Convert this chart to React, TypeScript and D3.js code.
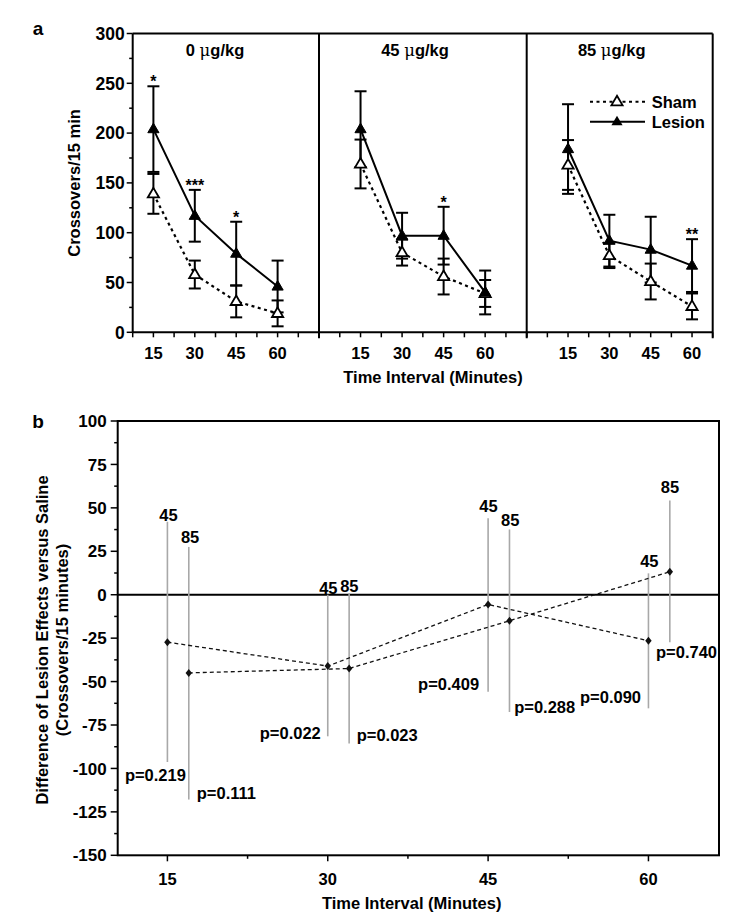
import React from 'react';
import * as d3 from 'd3';

// ---------- Panel a data ----------
const times = [15, 30, 45, 60];
const doseLabels = ['0', '45', '85'];

const lesion0 = [204, 117, 79, 46];
const lesion0Err = [43, 26, 32, 26];
const sham0 = [139, 58, 31, 19];
const sham0Err = [20, 14, 16, 13];

const lesion45 = [204, 97, 97, 40];
const lesion45Err = [38, 23, 29, 22];
const sham45 = [169, 80, 56, 39];
const sham45Err = [24.5, 13, 18, 13.5];

const lesion85 = [184, 92, 83, 67];
const lesion85Err = [45, 26, 33, 26.5];
const sham85 = [168, 77, 51, 26];
const sham85Err = [25, 12.5, 18, 13];

const starPanel = [0, 0, 0, 1, 2];
const starTime = [15, 30, 45, 45, 60];
const starText = ['*', '***', '*', '*', '**'];

const yTicksA = [0, 50, 100, 150, 200, 250, 300];

// ---------- Panel b data ----------
const times45 = [15, 30, 45, 60];
const est45 = [-27.3, -41.1, -5.6, -26.5];
const lo45 = [-96.3, -81.5, -55.8, -65.4];
const hi45 = [42, 0, 44, 12.3];
const p45 = ['p=0.219', 'p=0.022', 'p=0.409', 'p=0.090'];

const times85 = [17, 32, 47, 62];
const est85 = [-45, -42.5, -15, 13.2];
const lo85 = [-117.9, -85.7, -67.5, -27.4];
const hi85 = [27.5, 1, 37.6, 54.2];
const p85 = ['p=0.111', 'p=0.023', 'p=0.288', 'p=0.740'];

const yTicksB = [100, 75, 50, 25, 0, -25, -50, -75, -100, -125, -150];
const xTicksB = [15, 30, 45, 60];

// ---------- layout (not data) ----------
const FONT = "'Liberation Sans', Arial, Helvetica, sans-serif";
const top45Off = [[1, -6.7], [0.6, -6.3], [0.4, -11.8], [0.9, -12.6]];
const top85Off = [[1.3, -10], [0.2, -7], [0.7, -9.7], [0.2, -13.6]];
const p45Off: [number, number, string][] = [[-12, 13.3, 'middle'], [-7, -3.7, 'end'], [-9, -7.5, 'end'], [-7.4, -11.4, 'end']];
const p85Off: [number, number, string][] = [[8, -6.6, 'start'], [7.6, -8.3, 'start'], [4.7, -5.4, 'start'], [-13.8, 10, 'start']];
const titleX = [215, 415, 611.7];

function tri(cx: number, cy: number) {
  return `M${cx},${cy - 6}L${cx + 5.6},${cy + 3.6}L${cx - 5.6},${cy + 3.6}Z`;
}
function diamond(cx: number, cy: number) {
  return `M${cx},${cy - 4}L${cx + 3.2},${cy}L${cx},${cy + 4}L${cx - 3.2},${cy}Z`;
}

export default function App() {
  const yA = d3.scaleLinear().domain([0, 300]).range([332.3, 33.5]);
  const panelX = [
    d3.scaleLinear().domain([7.5, 75]).range([132.7, 319]),
    d3.scaleLinear().domain([0, 75]).range([319, 526.7]),
    d3.scaleLinear().domain([0, 67.5]).range([526.7, 712.7]),
  ];
  const lesion = [lesion0, lesion45, lesion85];
  const lesionErr = [lesion0Err, lesion45Err, lesion85Err];
  const sham = [sham0, sham45, sham85];
  const shamErr = [sham0Err, sham45Err, sham85Err];

  const xB = d3.scaleLinear().domain([10.35, 66.6]).range([117.7, 719]);
  const yB = d3.scaleLinear().domain([-150, 100]).range([855.3, 421]);

  const aLeft = 132.7, aRight = 712.7, aTop = yA(300), aBot = yA(0);
  const bLeft = xB.range()[0], bRight = xB.range()[1], bTop = yB(100), bBot = yB(-150);

  const lineGen = (xs: d3.ScaleLinear<number, number>) =>
    d3.line<number>().x((_, i) => xs(times[i])).y((d) => yA(d));

  const errBar = (x: number, m: number, e: number, key: string) => {
    const y1 = yA(m + e), y2 = yA(m - e);
    return (
      <g key={key} stroke="#000" strokeWidth={2}>
        <line x1={x} x2={x} y1={y1} y2={y2} />
        <line x1={x - 6} x2={x + 6} y1={y1} y2={y1} />
        <line x1={x - 6} x2={x + 6} y1={y2} y2={y2} />
      </g>
    );
  };

  const minorA = d3.range(25, 300, 50);
  const bMinorY = d3.range(-137.5, 100, 25);
  const bMinorX = [22.5, 37.5, 52.5];

  const lineB = (ts: number[]) => d3.line<number>().x((_, i) => xB(ts[i])).y((d) => yB(d));

  return (
    <svg width={745} height={920} style={{ position: 'absolute', left: 0, top: 0, background: '#fff' }}
      fontFamily={FONT} fontWeight="bold">
      <rect width={745} height={920} fill="#fff" />
      {/* ================= Panel a ================= */}
      <text x={38} y={35} fontSize={19} textAnchor="middle">a</text>

      {/* frame */}
      <g stroke="#000" strokeWidth={2} fill="none">
        <line x1={aLeft} x2={aRight} y1={aTop} y2={aTop} />
        <line x1={aLeft} x2={aRight} y1={aBot} y2={aBot} />
        <line x1={aLeft} x2={aLeft} y1={aTop} y2={aBot} />
        <line x1={aRight} x2={aRight} y1={aTop} y2={aBot + 6} />
        <line x1={panelX[1].range()[0]} x2={panelX[1].range()[0]} y1={aTop} y2={aBot + 6} />
        <line x1={panelX[2].range()[0]} x2={panelX[2].range()[0]} y1={aTop} y2={aBot + 6} />
      </g>

      {/* y axis ticks */}
      <g stroke="#000" strokeWidth={1.5}>
        {yTicksA.map((t) => <line key={'ya' + t} x1={aLeft - 6} x2={aLeft} y1={yA(t)} y2={yA(t)} />)}
        {minorA.map((t) => <line key={'yam' + t} x1={aLeft - 3.5} x2={aLeft} y1={yA(t)} y2={yA(t)} />)}
      </g>
      <g fontSize={17.5} textAnchor="end">
        {yTicksA.map((t) => <text key={'yal' + t} x={aLeft - 8} y={yA(t)} dy="0.36em">{t}</text>)}
      </g>
      <text transform={`translate(74,${(aTop + aBot) / 2}) rotate(-90)`} fontSize={16.5} textAnchor="middle" dy="0.36em">
        Crossovers/15 min
      </text>

      {/* x ticks per panel */}
      {panelX.map((xs, pi) => {
        const [d0, d1] = xs.domain();
        const ticks = d3.range(d0, d1 + 0.01, 7.5);
        return (
          <g key={'xt' + pi}>
            <g stroke="#000" strokeWidth={1.5}>
              {ticks.map((t) => <line key={t} x1={xs(t)} x2={xs(t)} y1={aBot} y2={aBot + 5} />)}
            </g>
            <g fontSize={16.5} textAnchor="middle">
              {times.map((t) => <text key={'l' + t} x={xs(t)} y={359}>{t}</text>)}
            </g>
          </g>
        );
      })}
      <text x={433} y={376.7} dy="0.36em" fontSize={16.5} textAnchor="middle">Time Interval (Minutes)</text>

      {/* panel titles */}
      {doseLabels.map((d, pi) => (
        <text key={'ti' + pi} x={titleX[pi]} y={50} dy="0.36em" fontSize={16.5} textAnchor="middle">
          {d} <tspan fontWeight="normal" fontFamily="'DejaVu Serif', serif">μ</tspan>g/kg
        </text>
      ))}

      {/* data */}
      {panelX.map((xs, pi) => (
        <g key={'pd' + pi}>
          {times.map((t, i) => errBar(xs(t), sham[pi][i], shamErr[pi][i], 'se' + i))}
          {times.map((t, i) => errBar(xs(t), lesion[pi][i], lesionErr[pi][i], 'le' + i))}
          <path d={lineGen(xs)(sham[pi]) || ''} fill="none" stroke="#000" strokeWidth={2.2} strokeDasharray="3 3.5" />
          <path d={lineGen(xs)(lesion[pi]) || ''} fill="none" stroke="#000" strokeWidth={2} />
          {times.map((t, i) => (
            <path key={'sm' + i} d={tri(xs(t), yA(sham[pi][i]))} fill="#fff" stroke="#000" strokeWidth={1.8} />
          ))}
          {times.map((t, i) => (
            <path key={'lm' + i} d={tri(xs(t), yA(lesion[pi][i]))} fill="#000" stroke="#000" strokeWidth={1} />
          ))}
        </g>
      ))}

      {/* significance stars */}
      {starText.map((s, i) => {
        const pi = starPanel[i];
        const ti = times.indexOf(starTime[i]);
        const capY = yA(lesion[pi][ti] + lesionErr[pi][ti]);
        return (
          <text key={'st' + i} x={panelX[pi](starTime[i])} y={capY + 1} fontSize={16} textAnchor="middle">{s}</text>
        );
      })}

      {/* legend */}
      <g>
        <line x1={590} x2={645} y1={101.7} y2={101.7} stroke="#000" strokeWidth={2} strokeDasharray="3 3.5" />
        <path d={tri(617, 101.7)} fill="#fff" stroke="#000" strokeWidth={1.8} />
        <text x={651.7} y={101.7} dy="0.36em" fontSize={16.5}>Sham</text>
        <line x1={590} x2={645} y1={121.7} y2={121.7} stroke="#000" strokeWidth={2} />
        <path d={tri(617, 121.7)} fill="#000" />
        <text x={651.7} y={121.7} dy="0.36em" fontSize={16.5}>Lesion</text>
      </g>

      {/* ================= Panel b ================= */}
      <text x={38} y={428.3} fontSize={19} textAnchor="middle">b</text>
      <rect x={bLeft} y={bTop} width={bRight - bLeft} height={bBot - bTop} fill="none" stroke="#000" strokeWidth={2} />
      <line x1={bLeft} x2={bRight} y1={yB(0)} y2={yB(0)} stroke="#000" strokeWidth={2} />

      <g stroke="#000" strokeWidth={1.5}>
        {yTicksB.map((t) => <line key={'yb' + t} x1={bLeft - 7} x2={bLeft} y1={yB(t)} y2={yB(t)} />)}
        {bMinorY.map((t) => <line key={'ybm' + t} x1={bLeft - 3.5} x2={bLeft} y1={yB(t)} y2={yB(t)} />)}
        {xTicksB.map((t) => <line key={'xb' + t} x1={xB(t)} x2={xB(t)} y1={bBot} y2={bBot + 6} />)}
        {bMinorX.map((t) => <line key={'xbm' + t} x1={xB(t)} x2={xB(t)} y1={bBot} y2={bBot + 3.5} />)}
      </g>
      <g fontSize={17} textAnchor="end">
        {yTicksB.map((t) => <text key={'ybl' + t} x={bLeft - 11} y={yB(t)} dy="0.36em">{t}</text>)}
      </g>
      <g fontSize={16.5} textAnchor="middle">
        {xTicksB.map((t) => <text key={'xbl' + t} x={xB(t)} y={879.3} dy="0.36em">{t}</text>)}
      </g>
      <text x={411.7} y={903.3} dy="0.36em" fontSize={16.5} textAnchor="middle">Time Interval (Minutes)</text>
      <g fontSize={16.5} textAnchor="middle">
        <text transform={`translate(42,640) rotate(-90)`} dy="0.36em">Difference of Lesion Effects versus Saline</text>
        <text transform={`translate(62,640) rotate(-90)`} dy="0.36em">(Crossovers/15 minutes)</text>
      </g>

      {/* CI lines */}
      <g stroke="#a8a8a8" strokeWidth={1.6}>
        {times45.map((t, i) => <line key={'c45' + i} x1={xB(t)} x2={xB(t)} y1={yB(hi45[i])} y2={yB(lo45[i])} />)}
        {times85.map((t, i) => <line key={'c85' + i} x1={xB(t)} x2={xB(t)} y1={yB(hi85[i])} y2={yB(lo85[i])} />)}
      </g>
      <path d={lineB(times45)(est45) || ''} fill="none" stroke="#111" strokeWidth={1.3} strokeDasharray="4 3" />
      <path d={lineB(times85)(est85) || ''} fill="none" stroke="#111" strokeWidth={1.3} strokeDasharray="4 3" />
      {times45.map((t, i) => <path key={'d45' + i} d={diamond(xB(t), yB(est45[i]))} fill="#111" />)}
      {times85.map((t, i) => <path key={'d85' + i} d={diamond(xB(t), yB(est85[i]))} fill="#111" />)}

      <g fontSize={16.5}>
        {times45.map((t, i) => (
          <text key={'t45' + i} x={xB(t) + top45Off[i][0]} y={yB(hi45[i]) + top45Off[i][1]} dy="0.36em" textAnchor="middle">45</text>
        ))}
        {times85.map((t, i) => (
          <text key={'t85' + i} x={xB(t) + top85Off[i][0]} y={yB(hi85[i]) + top85Off[i][1]} dy="0.36em" textAnchor="middle">85</text>
        ))}
        {times45.map((t, i) => (
          <text key={'p45' + i} x={xB(t) + p45Off[i][0]} y={yB(lo45[i]) + p45Off[i][1]} dy="0.36em" textAnchor={p45Off[i][2]}>{p45[i]}</text>
        ))}
        {times85.map((t, i) => (
          <text key={'p85' + i} x={xB(t) + p85Off[i][0]} y={yB(lo85[i]) + p85Off[i][1]} dy="0.36em" textAnchor={p85Off[i][2]}>{p85[i]}</text>
        ))}
      </g>
    </svg>
  );
}
